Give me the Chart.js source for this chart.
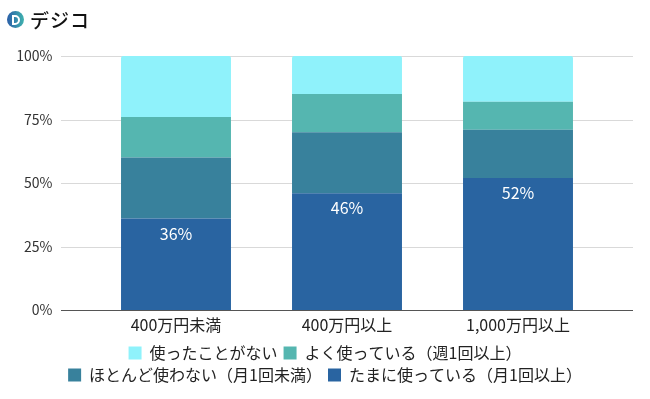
<!DOCTYPE html>
<html lang="ja">
<head>
<meta charset="utf-8">
<script src="https://cdn.jsdelivr.net/npm/chart.js@4"></script>
<style>
  body { margin: 0; background: #fff; }
  #wrap { position: relative; width: 650px; height: 399px; }
  #logo { position: absolute; left: 7px; top: 6px; display: flex; align-items: center; }
  #logo .mark {
    width: 17px; height: 17px; border-radius: 50%;
    background: linear-gradient(90deg, #2b5ea8, #3fb2ae);
    position: relative;
  }
  #logo .mark::after {
    content: ""; position: absolute; left: 5px; top: 4px; width: 4px; height: 6px;
    border: 2px solid #fff; border-radius: 0 5px 5px 0;
  }
  #logo .name { margin-left: 6px; font: 500 19px "Noto Sans CJK JP", sans-serif; color: #111; letter-spacing: 1px; }
</style>
</head>
<body>
<div id="wrap">
  <canvas id="chart" width="650" height="399"></canvas>
  <div id="logo"><div class="mark"></div><span class="name">デジコ</span></div>
</div>
<script>
// data
const categories = ['400万円未満', '400万円以上', '1,000万円以上'];
const tamani = [36, 46, 52];     // たまに使っている（月1回以上）
const hotondo = [24, 24, 19];    // ほとんど使わない（月1回未満）
const yoku = [16, 15, 11];       // よく使っている（週1回以上）
const nai = [24, 15, 18];        // 使ったことがない
const yTicks = [0, 25, 50, 75, 100];

const fontFamily = '"Noto Sans CJK JP", "Noto Sans", sans-serif';

// grid lines wider than the plot area
const gridPlugin = {
    id: 'wideGrid',
    beforeDatasetsDraw(chart) {
        const ctx = chart.ctx;
        const y = chart.scales.y;
        ctx.save();
        yTicks.forEach(function(v) {
            const py = Math.round(y.getPixelForValue(v)) + 0.5;
            ctx.strokeStyle = v === 0 ? '#555' : '#d9d9d9';
            ctx.lineWidth = 1;
            ctx.beginPath();
            ctx.moveTo(61, py);
            ctx.lineTo(633, py);
            ctx.stroke();
        });
        ctx.restore();
    }
};

// white value labels on bottom segment
const valuePlugin = {
    id: 'values',
    afterDatasetsDraw(chart) {
        const ctx = chart.ctx;
        const meta = chart.getDatasetMeta(0);
        ctx.save();
        ctx.fillStyle = '#fff';
        ctx.font = '16px ' + fontFamily;
        ctx.textAlign = 'center';
        ctx.textBaseline = 'middle';
        meta.data.forEach(function(bar, i) {
            ctx.fillText(tamani[i] + '%', bar.x, bar.y + 15);
        });
        ctx.restore();
    }
};

const config = {
    type: 'bar',
    data: {
        labels: categories,
        datasets: [
            { label: 'たまに使っている（月1回以上）', data: tamani, backgroundColor: '#2964a1' },
            { label: 'ほとんど使わない（月1回未満）', data: hotondo, backgroundColor: '#38819c' },
            { label: 'よく使っている（週1回以上）', data: yoku, backgroundColor: '#55b6b0' },
            { label: '使ったことがない', data: nai, backgroundColor: '#8ff2fb',
              borderRadius: { topLeft: 2, topRight: 2 }, borderSkipped: 'bottom' }
        ]
    },
    options: {
        responsive: false,
        animation: false,
        layout: { padding: { top: 56, left: 10, right: 10, bottom: 6 } },
        datasets: { bar: { barPercentage: 0.643, categoryPercentage: 1 } },
        scales: {
            x: {
                stacked: true,
                afterFit(scale) { scale.height = 29; },
                grid: { display: false, drawTicks: false, tickLength: 0 },
                border: { display: false },
                ticks: { color: '#222', font: { family: fontFamily, size: 16 }, padding: 5 }
            },
            y: {
                stacked: true,
                min: 0,
                max: 100,
                afterFit(scale) { scale.width = 80.5; },
                grid: { display: false },
                border: { display: false },
                ticks: {
                    stepSize: 25,
                    color: '#333',
                    padding: 30,
                    font: { family: fontFamily, size: 14 },
                    callback: function(v) { return v + '%'; }
                }
            },
            // empty axis on the right, only to keep the plot area in place
            yRight: {
                position: 'right',
                afterFit(scale) { scale.width = 36.5; },
                grid: { display: false },
                border: { display: false },
                ticks: { display: false }
            }
        },
        plugins: {
            legend: {
                position: 'bottom',
                reverse: true,
                labels: {
                    color: '#222',
                    boxWidth: 13,
                    boxHeight: 13,
                    padding: 6,
                    font: { family: fontFamily, size: 16 }
                }
            },
            tooltip: { enabled: false }
        }
    },
    plugins: [gridPlugin, valuePlugin]
};

const myChart = new Chart(document.getElementById('chart'), config);
</script>
</body>
</html>
